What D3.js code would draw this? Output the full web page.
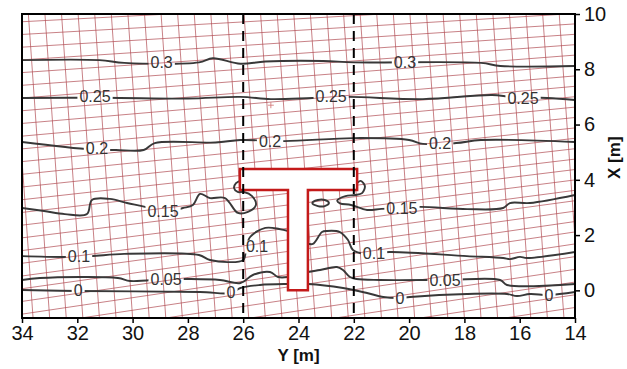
<!DOCTYPE html>
<html><head><meta charset="utf-8">
<script src="https://cdn.jsdelivr.net/npm/d3@7"></script>
<style>body{margin:0;background:#fff} svg{display:block}</style>
</head><body><svg id="c" width="627" height="369"></svg>
<script>
// ---- data (Y [m], X [m]) ----
const yTicks = [34,32,30,28,26,24,22,20,18,16,14];
const xTicks = [0,2,4,6,8,10];
const sectionLines = [26,22];

const c000 = [[34,0.013],[31.97,-0.023],[27.56,-0.059],[26.44,-0.095],[26.1,0.085],[25.39,0.194],[24.38,0.23],[23.66,0.23],[22.39,0.085],[21.52,-0.095],[20.94,-0.24],[20.33,-0.277],[19.97,-0.24],[17.91,-0.13],[16.46,-0.132],[16.1,-0.204],[15.63,-0.132],[14.94,-0.168],[14,-0.06]];
const c005 = [[34,0.375],[33.35,0.447],[30.53,0.447],[30.09,0.339],[28.79,0.411],[28.1,0.411],[26.84,0.375],[26.1,0.266],[25.65,0.556],[25.03,0.664],[24.74,0.483],[24.38,0.483],[23.66,0.664],[23.22,0.737],[22.61,0.845],[22.39,0.737],[22.14,0.483],[21.9,0.411],[21.05,0.375],[18.7,0.375],[16.71,0.375],[16.46,0.194],[14,0.23]];
const c010 = [[34,1.24],[32.4,1.21],[31.5,1.24],[30.3,1.32],[27.6,1.28],[27.2,1.10],[26.0,1.10],[25.9,1.5],[25.75,1.93],[25.2,2.26],[24.7,2.22],[24.2,2.08],[23.7,1.71],[23.48,1.68],[23.15,2.11],[22.97,2.15],[22.5,2.11],[22.21,1.82],[22.03,1.46],[21.6,1.32],[20.69,1.39],[17.91,1.24],[16.6,1.17],[16.35,1.13],[15.99,1.21],[15.74,1.17],[14,1.39]];
const c015a = [[34,2.98],[33.2,2.87],[32.45,2.76],[31.65,2.76],[31.47,3.27],[30.82,3.31],[30.2,3.16],[29.55,3.02],[28.9,2.84],[28.18,2.98],[27.82,3.09],[27.56,3.49],[27.2,3.34],[26.66,3.34],[26.19,2.80],[25.83,2.84],[25.54,3.09],[25.68,3.41],[25.97,3.56],[26.2,3.56],[26.33,3.70],[26.26,3.88],[26.05,3.99]];
const c015b = [[21.88,3.88],[21.75,3.96],[21.6,3.78],[21.7,3.52],[21.96,3.45],[22.3,3.41],[22.6,3.25],[22.5,3.15],[22.1,3.09],[21.52,2.91],[21.0,2.95],[20.26,2.98],[19.6,3.02],[17.9,2.94],[16.6,2.98],[16.35,3.16],[15.63,3.16],[14,3.45]];
const c015ring = [[23.5,3.16],[23.3,3.27],[23.05,3.27],[22.9,3.16],[23.05,3.05],[23.3,3.05]];
const c020 = [[34,5.37],[31.5,5.1],[30.6,5.08],[29.6,5.08],[29.2,5.33],[27.0,5.35],[26.1,5.44],[24.5,5.40],[22.0,5.51],[20.0,5.44],[19.5,5.30],[18.3,5.33],[17.4,5.44],[14,5.37]];
const c025 = [[34,6.96],[31,6.97],[28,6.94],[26.1,7.0],[25,6.92],[23.5,6.96],[22.2,7.0],[19.5,6.92],[17.0,7.07],[16.3,7.0],[15,6.96],[14,6.89]];
const c030 = [[34,8.33],[31.2,8.33],[30.3,8.23],[27.6,8.25],[27.1,8.4],[26.1,8.2],[25.2,8.28],[23.1,8.3],[22,8.25],[17.4,8.23],[16.7,8.12],[14,8.12]];
const contours = [c000,c005,c010,c015a,c015b,c020,c025,c030];
const closedContours = [c015ring];

const labelText = ["0","0","0","0","0.05","0.05","0.1","0.1","0.1","0.15","0.15","0.2","0.2","0.2","0.25","0.25","0.25","0.3","0.3"];
const labelY    = [31.97,26.44,20.33,14.94,28.79,18.70,31.94,25.5,21.27,28.9,20.26,31.29,25.03,18.88,31.36,22.82,15.88,28.95,20.15];
const labelX    = [-0.023,-0.095,-0.277,-0.168,0.411,0.375,1.21,1.57,1.32,2.84,2.98,5.15,5.37,5.30,7.0,7.0,6.96,8.23,8.23];

const beam = [[26.12,4.39],[21.88,4.39],[21.88,3.63],[23.66,3.63],[23.66,0],[24.38,0],[24.38,3.63],[26.12,3.63]];
const marker = [[25.0,6.7]];

// mesh parameters (m)
const meshDY = 0.6, meshDX = 0.46, meshTilt = 0.07, slopeTop = 0.05, slopeBottom = 0.15;

// ---- layout ----
const L=22,R=575,T=14,B=318;
const svg = d3.select("#c");
const sx = d3.scaleLinear().domain([34,14]).range([L,R]);
const sy = d3.scaleLinear().domain([-1,10]).range([B,T]);
const font = "Arial, 'Liberation Sans', Helvetica, sans-serif";

const defs = svg.append("defs");
defs.append("clipPath").attr("id","clip").append("rect").attr("x",L).attr("y",T).attr("width",R-L).attr("height",B-T);

const plot = svg.append("g").attr("clip-path","url(#clip)");

// mesh
const gridCol = "#b04a52";
const vLines = d3.range(36, 12, -meshDY);
plot.append("g").selectAll("line").data(vLines).join("line")
  .attr("x1",d=>sx(d)).attr("y1",sy(-1)).attr("x2",d=>sx(d+meshTilt*11)).attr("y2",sy(10))
  .attr("stroke",gridCol).attr("stroke-width",0.7);
const hLines = d3.range(-5, 11, meshDX);
plot.append("g").selectAll("line").data(hLines).join("line")
  .attr("x1",sx(34)).attr("y1",d=>sy(d))
  .attr("x2",sx(14)).attr("y2",d=>{const s=slopeBottom-(slopeBottom-slopeTop)*Math.max(0,(d+1))/11; return sy(d+s*20);})
  .attr("stroke",gridCol).attr("stroke-width",0.7);

// marker
plot.selectAll(".mk").data(marker).join("path").attr("class","mk")
  .attr("d",d=>`M${sx(d[0])-3},${sy(d[1])}h6M${sx(d[0])},${sy(d[1])-3}v6`)
  .attr("stroke","#d07070").attr("stroke-width",0.8);

// mask for label gaps
const mask = defs.append("mask").attr("id","lblmask").attr("maskUnits","userSpaceOnUse")
  .attr("x",0).attr("y",0).attr("width",627).attr("height",369);
mask.append("rect").attr("width",627).attr("height",369).attr("fill","#fff");

const line = d3.line().x(d=>sx(d[0])).y(d=>sy(d[1])).curve(d3.curveCatmullRom.alpha(0.5));
const lineC = d3.line().x(d=>sx(d[0])).y(d=>sy(d[1])).curve(d3.curveCatmullRomClosed.alpha(0.5));
const cg = plot.append("g").attr("mask","url(#lblmask)").attr("fill","none").attr("stroke","#383838").attr("stroke-width",1.9);
cg.selectAll(".ct").data(contours).join("path").attr("class","ct").attr("d",line);
cg.selectAll(".cc").data(closedContours).join("path").attr("class","cc").attr("d",lineC);

// labels
const lg = plot.append("g");
const labs = lg.selectAll("text").data(labelText).join("text")
  .attr("x",(d,i)=>sx(labelY[i])).attr("y",(d,i)=>sy(labelX[i]))
  .attr("text-anchor","middle").attr("dominant-baseline","central")
  .attr("font-family",font).attr("font-size",16).attr("fill","#333")
  .text(d=>d);
labs.each(function(){
  const b=this.getBBox();
  mask.append("rect").attr("x",b.x-2).attr("y",b.y+2).attr("width",b.width+4).attr("height",b.height-4).attr("fill","#000");
});

// beam section
plot.append("path").attr("d", d3.line().x(d=>sx(d[0])).y(d=>sy(d[1]))(beam)+"Z")
  .attr("fill","#fff").attr("stroke","#c41a1a").attr("stroke-width",2.5).attr("stroke-linejoin","miter");

// section lines
svg.append("g").selectAll("line").data(sectionLines).join("line")
  .attr("x1",d=>sx(d)).attr("x2",d=>sx(d)).attr("y1",T).attr("y2",B)
  .attr("stroke","#000").attr("stroke-width",2).attr("stroke-dasharray","10,7");

// axes
const xa = svg.append("g").attr("transform",`translate(0,${B})`)
  .call(d3.axisBottom(sx).tickValues(yTicks).tickSize(5).tickPadding(3).tickFormat(d3.format("d")));
const ya = svg.append("g").attr("transform",`translate(${R},0)`)
  .call(d3.axisRight(sy).tickValues(xTicks).tickSize(5).tickPadding(4).tickFormat(d3.format("d")));
[xa,ya].forEach(a=>{
  a.select(".domain").remove();
  a.selectAll("line").attr("stroke","#000").attr("stroke-width",1.5);
  a.selectAll("text").attr("font-family",font).attr("font-size",20).attr("fill","#111");
});
svg.append("rect").attr("x",L).attr("y",T).attr("width",R-L).attr("height",B-T)
  .attr("fill","none").attr("stroke","#000").attr("stroke-width",2);

svg.append("text").attr("x",sx(24)).attr("y",361).attr("text-anchor","middle")
  .attr("font-family",font).attr("font-weight","bold").attr("font-size",17).attr("fill","#111").text("Y [m]");
svg.append("text").attr("transform",`translate(620,${sy(4.8)}) rotate(-90)`).attr("text-anchor","middle")
  .attr("font-family",font).attr("font-weight","bold").attr("font-size",17).attr("fill","#111").text("X [m]");
</script></body></html>
